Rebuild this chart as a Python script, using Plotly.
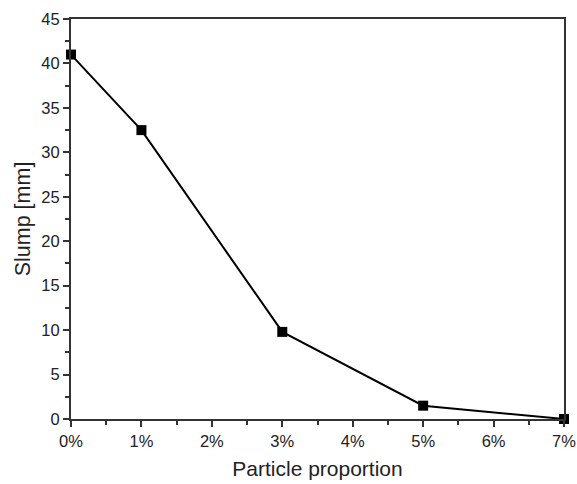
import plotly.graph_objects as go

x_vals = [0, 1, 3, 5, 7]
slump = [41, 32.5, 9.8, 1.5, 0]
x_ticks = [0, 1, 2, 3, 4, 5, 6, 7]
x_tick_labels = ["0%", "1%", "2%", "3%", "4%", "5%", "6%", "7%"]

fig = go.Figure()
fig.add_trace(go.Scatter(
    x=x_vals, y=slump, mode="lines+markers",
    line=dict(color="black", width=2),
    marker=dict(symbol="square", size=10, color="black"),
    cliponaxis=False,
))

font = "Liberation Sans, Arial, sans-serif"
fig.update_layout(
    width=577, height=484,
    margin=dict(l=71, r=13, t=19, b=65),
    paper_bgcolor="white", plot_bgcolor="white",
    showlegend=False,
    font=dict(family=font, color="#222", size=16.5),
)
fig.update_xaxes(
    range=[0, 7], tickvals=x_ticks, ticktext=x_tick_labels,
    automargin=False, ticklabeloverflow="allow",
    showline=True, linecolor="#333", linewidth=2, mirror=True,
    ticks="outside", ticklen=6, tickwidth=1.5, tickcolor="#333",
    minor=dict(ticks="outside", ticklen=4, tickwidth=1.5, tickcolor="#333", dtick=0.5, showgrid=False),
    showgrid=False, zeroline=False,
    title=dict(text="Particle proportion", font=dict(size=21, family=font, color="#222"), standoff=13),
    tickfont=dict(size=16.5),
)
fig.update_yaxes(
    range=[0, 45], dtick=5,
    automargin=False, ticklabeloverflow="allow",
    showline=True, linecolor="#333", linewidth=2, mirror=True,
    ticks="outside", ticklen=6, tickwidth=1.5, tickcolor="#333",
    minor=dict(ticks="outside", ticklen=4, tickwidth=1.5, tickcolor="#333", dtick=2.5, showgrid=False),
    showgrid=False, zeroline=False,
    title=dict(text="Slump [mm]", font=dict(size=21.5, family=font, color="#222"), standoff=5),
    tickfont=dict(size=16.5),
)
fig.write_html("out.html")
